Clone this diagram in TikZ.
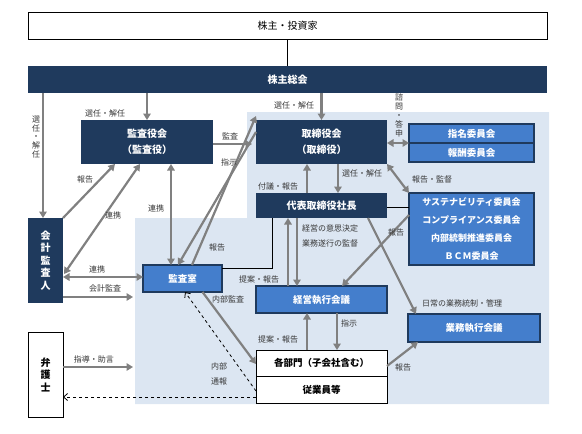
\documentclass[tikz,border=0pt]{standalone}
\usepackage{fontspec}
\setmainfont{Noto Sans CJK JP}
\usetikzlibrary{arrows.meta,calc}
\definecolor{navy}{RGB}{31,58,93}
\definecolor{midblue}{RGB}{68,126,204}
\definecolor{lightbg}{RGB}{220,230,242}
\definecolor{arrgray}{RGB}{128,128,128}
\definecolor{lblcol}{RGB}{55,55,55}
\begin{document}
\begin{tikzpicture}[x=1pt,y=-1pt,
  every node/.style={inner sep=0pt,outer sep=0pt},
  navybox/.style={fill=navy,text=white,font=\fontsize{10}{16}\selectfont\bfseries,align=center},
  bluebox/.style={fill=midblue,draw=navy,line width=1.2pt,text=white,font=\fontsize{9.5}{16}\selectfont\bfseries,align=center},
  whitebox/.style={fill=white,draw=black,line width=0.9pt,font=\fontsize{9.5}{12}\selectfont\bfseries,align=center},
  lbl/.style={text=lblcol,font=\fontsize{8}{9}\selectfont,align=center},
  vlbl/.style={text=lblcol,font=\fontsize{8}{9}\selectfont,align=center},
  arr/.style={draw=arrgray,line width=2.2pt,-{Triangle[length=6.5pt,width=7.5pt]}},
  darr/.style={draw=arrgray,line width=2.2pt,{Triangle[length=6.5pt,width=7.5pt]}-{Triangle[length=6.5pt,width=7.5pt]}},
  blk/.style={draw=black,line width=1pt},
  dsh/.style={draw=black,line width=0.8pt,dashed,-{Straight Barb[length=4pt,width=7pt]}}
]
\useasboundingbox (0,0) rectangle (582,434);
% background
\fill[lightbg] (247,112) -- (549,112) -- (549,404) -- (135,404) -- (135,218) -- (247,218) -- cycle;

% nodes
\node[whitebox,font=\fontsize{10}{12}\selectfont,minimum width=519pt,minimum height=27pt] (inv) at (287.5,25.5) {株主・投資家};
\node[navybox,minimum width=519pt,minimum height=27pt] (gm) at (287.5,79.5) {株主総会};
\node[navybox,minimum width=132pt,minimum height=44pt] (kansa) at (147,142) {監査役会\\（監査役）};
\node[navybox,minimum width=131pt,minimum height=44pt] (board) at (321.5,142) {取締役会\\（取締役）};
\node[bluebox,minimum width=125pt,minimum height=19pt] (nom) at (471.5,133.5) {指名委員会};
\node[bluebox,minimum width=125pt,minimum height=19pt] (rem) at (471.5,152.5) {報酬委員会};
\node[navybox,minimum width=131pt,minimum height=25pt] (pres) at (321.5,205.5) {代表取締役社長};
\node[bluebox,minimum width=125pt,minimum height=72pt,font=\fontsize{9}{18}\selectfont\bfseries] (comm) at (471.5,229) {サステナビリティ委員会\\コンプライアンス委員会\\内部統制推進委員会\\ＢＣＭ委員会};
\node[navybox,minimum width=35pt,minimum height=85pt,font=\fontsize{10}{12.5}\selectfont\bfseries] (aud) at (45.5,260.5) {会\\計\\監\\査\\人};
\node[bluebox,minimum width=79pt,minimum height=27pt] (iad) at (182.5,278.5) {監査室};
\node[bluebox,minimum width=131pt,minimum height=27pt] (mgmt) at (321.5,299.5) {経営執行会議};
\node[bluebox,minimum width=132pt,minimum height=28pt] (ops) at (474,328) {業務執行会議};
\node[whitebox,minimum width=131pt,minimum height=26pt] (dept) at (321.5,363) {各部門（子会社含む）};
\node[whitebox,minimum width=131pt,minimum height=27pt] (emp) at (321.5,389.5) {従業員等};
\node[whitebox,minimum width=35pt,minimum height=85pt,font=\fontsize{10}{12.5}\selectfont\bfseries] (law) at (45.5,374.5) {弁\\護\\士};

% helper coordinates
\coordinate (x43) at (43,0);
\coordinate (x171) at (171,0);
\coordinate (x288) at (288,0);
\coordinate (x297) at (297,0);
\coordinate (x307) at (307,0);
\coordinate (x338) at (338,0);
\coordinate (x337) at (337,0);
\coordinate (x272) at (272,0);
\coordinate (y144) at (0,144);
\coordinate (y207) at (0,207);
\coordinate (y268) at (0,268);
\coordinate (y277) at (0,277);
\coordinate (y297) at (0,297);
\coordinate (y367) at (0,367);
\coordinate (y397) at (0,397);
\coordinate (bgl) at (133,0);

% connectors
\draw[blk] (inv.south) -- (gm.north);
\draw[arr] (gm.south -| x43) -- (aud.north -| x43);
\draw[arr] (gm.south -| kansa.north) -- (kansa.north);
\draw[arr] (gm.south -| board.north) -- (board.north);
\draw[arr] (kansa.east |- y144) -- ([xshift=-4pt]board.west |- y144);
\draw[darr] (board.east |- nom.south) -- (nom.south west);
\draw[darr] (board.south east) -- (comm.north west);
\draw[arr] (board.south -| x338) -- (pres.north -| x338);
\draw[arr] (pres.north -| x307) -- (board.south -| x307);
\draw[blk] (pres.east |- y207) -- (comm.west |- y207);
\draw[arr] ([xshift=46.5pt]pres.south) -- ([xshift=-58pt]ops.north);
\draw[arr] ([yshift=14pt]comm.west) -- ([xshift=20.5pt]mgmt.north);
\draw[arr] (mgmt.north -| x288) -- (pres.south -| x288);
\draw[arr] (pres.south -| x297) -- (mgmt.north -| x297);
\draw[arr] (dept.north -| x307) -- (mgmt.south -| x307);
\draw[arr] (mgmt.south -| x337) -- (dept.north -| x337);
\draw[arr] ([yshift=-3pt]dept.east) -- ([xshift=-56pt]ops.south);
\draw[arr] ([xshift=20pt]iad.south) -- ([yshift=-1pt]dept.west);
\draw[dsh] ([yshift=-1.5pt]emp.west) -- ([xshift=2.5pt]iad.south);
\draw[dsh] (emp.west |- y397) -- (law.east |- y397);
\draw[arr] (law.east |- y367) -- (bgl |- y367);
\draw[darr] (aud.east |- y277) -- (iad.west |- y277);
\draw[arr] (aud.east |- y297) -- (bgl |- y297);
\draw[arr] (aud.north east) -- ([xshift=-32pt]kansa.south);
\draw[darr] ([xshift=-7pt]kansa.south) -- ([xshift=1pt,yshift=-13.5pt]aud.east);
\draw[darr] (kansa.south -| x171) -- (iad.north -| x171);
\draw[arr] ([yshift=10pt]board.west) -- ([xshift=-4.5pt]iad.north);
\draw[arr] ([xshift=9.5pt]iad.north) -- ([yshift=26pt]board.west);
\draw[blk] (iad.east |- y268) -| (pres.south -| x272);

% labels
\node[vlbl,font=\fontsize{8}{8.8}\selectfont] (l1) at (36,137) {選\\任\\・\\解\\任};
\node[lbl] (l2) at (105,113) {選任・解任};
\node[lbl] (l3) at (294,105) {選任・解任};
\node[vlbl,font=\fontsize{8}{9}\selectfont] (l4) at (399,115) {諮\\問\\・\\答\\申};
\node[lbl] (l5) at (230,136) {監査};
\node[lbl] (l6) at (229,162) {指示};
\node[lbl] (l7) at (85,179) {報告};
\node[lbl] (l8) at (113,215) {連携};
\node[lbl] (l9) at (156,208) {連携};
\node[lbl] (l10) at (278,186) {付議・報告};
\node[lbl] (l11) at (362,173) {選任・解任};
\node[lbl] (l12) at (432,179) {報告・監督};
\node[lbl,align=left,anchor=west,font=\fontsize{8}{15}\selectfont] (l13) at (302,235.5) {経営の意思決定\\業務遂行の監督};
\node[lbl] (l14) at (396,232) {報告};
\node[lbl] (l15) at (217,247) {報告};
\node[lbl] (l16) at (259,279) {提案・報告};
\node[lbl] (l17) at (228,299) {内部監査};
\node[lbl] (l18) at (462,303) {日常の業務統制・管理};
\node[lbl] (l19) at (349,323) {指示};
\node[lbl] (l20) at (278,339) {提案・報告};
\node[lbl] (l21) at (97,269) {連携};
\node[lbl] (l22) at (105,288) {会計監査};
\node[lbl] (l23) at (94,359) {指導・助言};
\node[lbl,font=\fontsize{8}{15}\selectfont] (l24) at (219,373.5) {内部\\通報};
\node[lbl] (l25) at (403,367) {報告};
\end{tikzpicture}
\end{document}
